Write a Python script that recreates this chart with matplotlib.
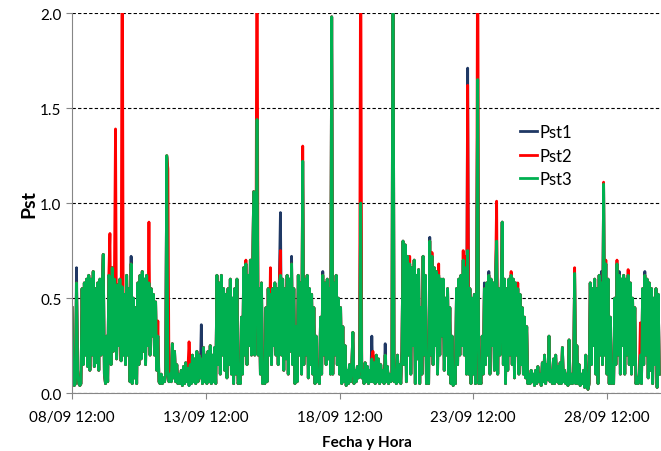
import numpy as np
import pandas as pd
import matplotlib
matplotlib.use('Agg')
import matplotlib.pyplot as plt
import matplotlib.dates as mdates

plt.rcParams['font.family'] = ['Lato', 'DejaVu Sans']

# hourly Pst3 values, one row per day starting at 12:00 (08/09 .. 29/09)
pst3_days = [
    [0.45, 0.06, 0.04, 0.05, 0.58, 0.12, 0.05, 0.04, 0.05, 0.55, 0.15, 0.58, 0.20, 0.60, 0.14, 0.62, 0.12, 0.60, 0.20, 0.64, 0.14, 0.55, 0.16, 0.58],
    [0.12, 0.60, 0.20, 0.56, 0.73, 0.10, 0.05, 0.30, 0.06, 0.62, 0.58, 0.15, 0.66, 0.22, 0.60, 0.55, 0.18, 0.57, 0.25, 0.60, 0.17, 0.56, 0.20, 0.52],
    [0.15, 0.62, 0.20, 0.55, 0.06, 0.68, 0.05, 0.50, 0.08, 0.45, 0.05, 0.58, 0.15, 0.62, 0.18, 0.64, 0.22, 0.60, 0.15, 0.62, 0.25, 0.58, 0.20, 0.55],
    [0.30, 0.52, 0.20, 0.48, 0.12, 0.30, 0.06, 0.05, 0.10, 0.05, 0.08, 0.06, 0.10, 1.25, 0.12, 0.06, 0.10, 0.06, 0.26, 0.08, 0.22, 0.06, 0.15, 0.05],
    [0.10, 0.05, 0.12, 0.04, 0.14, 0.05, 0.16, 0.06, 0.13, 0.04, 0.15, 0.05, 0.20, 0.06, 0.18, 0.05, 0.22, 0.06, 0.20, 0.08, 0.18, 0.05, 0.24, 0.06],
    [0.20, 0.05, 0.22, 0.06, 0.25, 0.05, 0.20, 0.06, 0.24, 0.05, 0.62, 0.15, 0.58, 0.10, 0.62, 0.20, 0.55, 0.12, 0.52, 0.08, 0.55, 0.15, 0.60, 0.10],
    [0.50, 0.05, 0.55, 0.10, 0.60, 0.05, 0.08, 0.05, 0.40, 0.10, 0.66, 0.20, 0.68, 0.15, 0.62, 0.25, 0.70, 0.20, 0.62, 1.06, 0.20, 0.60, 1.44, 0.20],
    [0.55, 0.10, 0.58, 0.05, 0.08, 0.05, 0.45, 0.06, 0.55, 0.20, 0.52, 0.15, 0.55, 0.25, 0.58, 0.20, 0.55, 0.15, 0.58, 0.62, 0.20, 0.60, 0.12, 0.55],
    [0.18, 0.62, 0.10, 0.60, 0.22, 0.68, 0.15, 0.55, 0.05, 0.35, 0.06, 0.62, 0.20, 0.58, 0.10, 1.22, 0.15, 0.60, 0.20, 0.62, 0.08, 0.55, 0.15, 0.52],
    [0.10, 0.45, 0.05, 0.30, 0.06, 0.08, 0.05, 0.40, 0.10, 0.62, 0.20, 0.58, 0.15, 0.60, 0.18, 0.55, 0.10, 1.98, 0.10, 0.58, 0.20, 0.62, 0.15, 0.50],
    [0.10, 0.45, 0.05, 0.35, 0.06, 0.25, 0.04, 0.12, 0.05, 0.15, 0.06, 0.14, 0.32, 0.05, 0.12, 0.06, 0.14, 0.08, 0.15, 1.00, 0.08, 0.12, 0.05, 0.16],
    [0.06, 0.14, 0.05, 0.12, 0.06, 0.18, 0.06, 0.16, 0.05, 0.20, 0.06, 0.18, 0.05, 0.15, 0.06, 0.12, 0.05, 0.20, 0.06, 0.14, 0.05, 0.10, 0.06, 0.08],
    [2.60, 0.06, 0.12, 0.05, 0.20, 0.06, 0.15, 0.05, 0.22, 0.80, 0.15, 0.78, 0.06, 0.72, 0.20, 0.68, 0.10, 0.66, 0.25, 0.70, 0.05, 0.62, 0.18, 0.65],
    [0.05, 0.45, 0.10, 0.72, 0.20, 0.62, 0.05, 0.08, 0.05, 0.80, 0.20, 0.72, 0.15, 0.66, 0.25, 0.64, 0.10, 0.62, 0.20, 0.60, 0.30, 0.60, 0.12, 0.50],
    [0.20, 0.55, 0.10, 0.45, 0.05, 0.30, 0.04, 0.06, 0.05, 0.55, 0.15, 0.60, 0.20, 0.62, 0.25, 0.70, 0.20, 0.66, 0.10, 0.75, 0.10, 0.55, 0.05, 0.50],
    [0.10, 0.52, 0.05, 0.48, 1.65, 0.05, 0.08, 0.05, 0.30, 0.10, 0.55, 0.15, 0.58, 0.20, 0.62, 0.10, 0.60, 0.25, 0.58, 0.12, 0.60, 0.80, 0.10, 0.55],
    [0.20, 0.50, 0.90, 0.15, 0.60, 0.05, 0.55, 0.12, 0.60, 0.20, 0.62, 0.15, 0.60, 0.08, 0.58, 0.20, 0.55, 0.10, 0.52, 0.15, 0.45, 0.10, 0.40, 0.08],
    [0.35, 0.05, 0.10, 0.05, 0.12, 0.06, 0.10, 0.04, 0.12, 0.05, 0.14, 0.06, 0.10, 0.04, 0.16, 0.06, 0.20, 0.05, 0.15, 0.07, 0.30, 0.06, 0.12, 0.05],
    [0.18, 0.05, 0.20, 0.06, 0.14, 0.05, 0.16, 0.05, 0.24, 0.06, 0.12, 0.05, 0.10, 0.04, 0.28, 0.05, 0.10, 0.05, 0.08, 0.63, 0.05, 0.25, 0.05, 0.15],
    [0.04, 0.10, 0.05, 0.12, 0.03, 0.20, 0.04, 0.02, 0.05, 0.58, 0.15, 0.55, 0.25, 0.60, 0.10, 0.55, 0.05, 0.62, 0.20, 0.58, 0.15, 1.10, 0.20, 0.68],
    [0.10, 0.60, 0.05, 0.40, 0.05, 0.08, 0.05, 0.50, 0.15, 0.68, 0.20, 0.62, 0.10, 0.60, 0.25, 0.62, 0.10, 0.60, 0.20, 0.62, 0.15, 0.58, 0.10, 0.50],
    [0.15, 0.45, 0.05, 0.08, 0.05, 0.10, 0.20, 0.05, 0.55, 0.15, 0.62, 0.20, 0.60, 0.08, 0.58, 0.12, 0.55, 0.05, 0.50, 0.15, 0.55, 0.03, 0.52, 0.10],
]

# hours (from 08/09 12:00) where Pst1 / Pst2 differ from Pst3
pst1_peaks = {4: 0.66, 53: 0.72, 85: 1.24, 116: 0.36, 187: 0.95, 197: 0.72,
              225: 0.64, 269: 0.30, 281: 0.26, 288: 2.60, 321: 0.82,
              355: 1.71, 370: 0.58, 374: 0.64, 475: 0.64, 491: 0.64, 514: 0.64}
pst2_peaks = {34: 0.84, 39: 1.39, 45: 2.60, 69: 0.90, 77: 0.38, 86: 1.18,
              105: 0.27, 178: 0.66, 156: 0.70, 166: 2.60, 187: 0.75, 207: 1.30,
              259: 2.60, 270: 0.22, 288: 2.60, 303: 0.72, 323: 0.74, 329: 0.68,
              351: 0.75, 353: 0.72, 355: 1.62, 364: 2.60, 381: 1.01, 394: 0.64,
              400: 0.58, 451: 0.66, 477: 1.11, 479: 0.70, 489: 0.70, 499: 0.65,
              510: 0.37}

pst3 = np.concatenate(pst3_days)
pst1 = pst3.copy()
for k, v in pst1_peaks.items():
    pst1[k] = v
pst2 = pst3.copy()
for k, v in pst2_peaks.items():
    pst2[k] = v

t = pd.date_range('2012-09-08 12:00', periods=len(pst3), freq='h')

fig = plt.figure(figsize=(6.61, 4.52), dpi=100)
ax = fig.add_axes([0.109, 0.128, 0.891, 0.841])

ax.plot(t, pst1, color='#1F3864', lw=2.0, label='Pst1')
ax.plot(t, pst2, color='#FF0000', lw=2.0, label='Pst2')
ax.plot(t, pst3, color='#00B050', lw=2.0, label='Pst3')

ax.set_ylim(0, 2.0)
ax.set_xlim(pd.Timestamp('2012-09-08 12:00'), pd.Timestamp('2012-09-30 12:30'))
ax.set_yticks([0, 0.5, 1.0, 1.5, 2.0])
ax.yaxis.set_major_formatter(matplotlib.ticker.FormatStrFormatter('%.1f'))
ax.set_xticks(pd.date_range('2012-09-08 12:00', periods=5, freq='5D'))
ax.xaxis.set_major_formatter(mdates.DateFormatter('%d/%m %H:%M'))
ax.tick_params(labelsize=11, colors='#868686', labelcolor='black', length=4)
ax.tick_params(axis='x', pad=8)

ax.grid(axis='y', color='black', linestyle=(0, (3, 2)), lw=0.8)
ax.set_axisbelow(True)
for s in ['top', 'right']:
    ax.spines[s].set_visible(False)
for s in ['left', 'bottom']:
    ax.spines[s].set_color('#868686')

ax.set_ylabel('Pst', fontsize=14, fontweight='bold', labelpad=2)
ax.set_xlabel('Fecha y Hora', fontsize=11, fontweight='bold', labelpad=8)

ax.legend(loc='center', bbox_to_anchor=(0.805, 0.625), frameon=False, fontsize=12,
          handlelength=1.0, handletextpad=0.2, labelspacing=0.45)

plt.savefig('out.png', dpi=100)
